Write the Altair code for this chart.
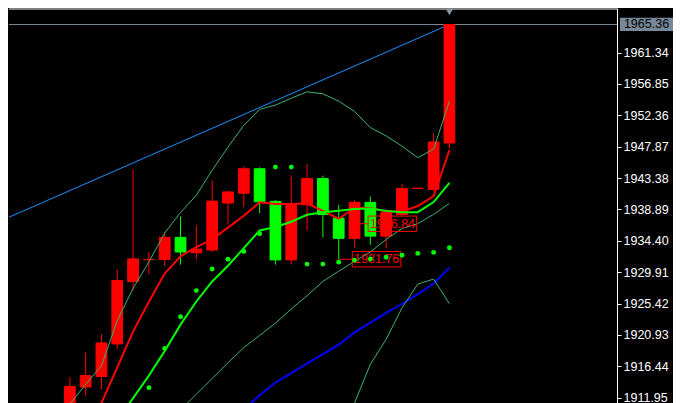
import altair as alt
import pandas as pd

# ---------------- data ----------------
candle_k = list(range(25))
open_ = [1909.00, 1913.47, 1914.97, 1919.64, 1928.58, 1931.70, 1931.71, 1934.89, 1932.69, 1933.07,
         1939.80, 1941.20, 1944.71, 1940.04, 1931.66, 1939.56, 1943.31, 1937.65, 1934.75, 1939.90,
         1935.07, 1938.16, 1941.90, 1941.77, 1948.40]
high = [1914.87, 1918.38, 1921.00, 1930.30, 1944.57, 1932.79, 1935.59, 1937.88, 1936.62, 1943.03,
        1941.53, 1945.04, 1944.90, 1940.22, 1943.73, 1945.41, 1943.73, 1939.52, 1940.22, 1940.74,
        1938.96, 1942.56, 1941.92, 1949.81, 1965.36]
low = [1908.50, 1912.20, 1913.14, 1918.94, 1927.27, 1929.60, 1930.78, 1931.00, 1931.71, 1932.79,
       1936.71, 1939.20, 1938.36, 1931.00, 1931.00, 1935.83, 1934.85, 1931.76, 1933.44, 1933.81,
       1933.35, 1937.84, 1941.90, 1941.49, 1947.62]
close = [1913.56, 1915.11, 1919.78, 1928.72, 1931.80, 1931.73, 1934.89, 1932.79, 1933.21, 1940.08,
         1941.39, 1944.71, 1939.98, 1931.66, 1939.66, 1943.31, 1938.16, 1934.75, 1939.90, 1935.07,
         1938.47, 1941.90, 1941.92, 1948.54, 1965.36]

ma_red_k = list(range(1, 25))
ma_red = [1905.99, 1911.18, 1916.26, 1921.42, 1925.67, 1929.70, 1932.18, 1933.48, 1934.61, 1936.29,
          1937.97, 1939.90, 1939.66, 1939.66, 1939.73, 1938.68, 1937.56, 1939.10, 1939.10, 1938.61,
          1938.54, 1939.38, 1940.78, 1947.38]

ma_lime_k = list(range(3, 25))
ma_lime = [1908.65, 1911.88, 1915.10, 1918.61, 1922.40, 1925.71, 1928.58, 1930.82, 1933.35, 1935.87,
           1936.36, 1937.13, 1938.12, 1938.47, 1938.71, 1938.96, 1939.03, 1938.68, 1938.50, 1938.50,
           1939.94, 1942.70]

band_up_k = list(range(25))
band_up = [1911.04, 1913.84, 1916.51, 1922.96, 1927.59, 1931.38, 1935.52, 1938.44, 1940.92, 1944.50,
           1947.80, 1950.92, 1953.20, 1953.83, 1954.81, 1955.72, 1955.44, 1954.39, 1952.92, 1950.60,
           1949.41, 1947.94, 1946.29, 1947.52, 1954.39]

band_lo_k = list(range(7, 25))
band_lo = [1910.19, 1912.44, 1914.68, 1916.93, 1919.10, 1920.86, 1922.60, 1924.64, 1926.54, 1928.58,
           1930.05, 1931.45, 1932.79, 1934.61, 1936.15, 1936.85, 1938.18, 1939.76]

env_k = list(range(17, 25))
env = [1905.99, 1911.18, 1916.72, 1920.30, 1924.79, 1928.19, 1928.92, 1925.39]

ma_blue_k = list(range(11, 25))
ma_blue = [1910.19, 1912.30, 1914.12, 1915.45, 1916.86, 1918.19, 1919.52, 1921.28, 1922.68, 1924.08,
           1925.35, 1926.75, 1928.29, 1930.54]

sar_k = list(range(5, 25))
sar = [1913.38, 1918.99, 1923.52, 1927.27, 1930.36, 1931.76, 1932.88, 1935.41, 1944.95, 1944.95,
       1931.06, 1931.06, 1931.34, 1931.62, 1931.80, 1932.04, 1932.32, 1932.60, 1932.74, 1933.41]

trend_k = [-4, 24]
trend = [1937.62, 1965.36]

tick_vals = [1961.34, 1956.85, 1952.36, 1947.87, 1943.38, 1938.89, 1934.40, 1929.91,
             1925.42, 1920.93, 1916.44, 1911.95]
last_price = 1965.36

label_k = [18, 17]
label_vals = [1936.84, 1931.76]

# ---------------- chart ----------------
W, H = 608, 395
XDOM = [-3.84375, 34.59375]
YDOM = [1911.18, 1967.72]
FONT = "Liberation Sans"

xs = alt.Scale(domain=XDOM, nice=False, zero=False)
ys = alt.Scale(domain=YDOM, nice=False, zero=False)
yaxis = alt.Axis(orient="right", values=tick_vals, format=".2f", labelColor="white",
                 labelFont=FONT, labelFontSize=12.5, tickColor="white", tickSize=4,
                 tickWidth=1, domainColor="white", domainWidth=1, grid=False, title=None,
                 labelPadding=2, labelOverlap=False)


def X(f):
    return alt.X(f, type="quantitative", scale=xs, axis=None)


def Y(f):
    return alt.Y(f, type="quantitative", scale=ys, axis=yaxis)


candles = pd.DataFrame({"k": candle_k, "open": open_, "high": high, "low": low, "close": close})
candles["dir"] = ["up" if c >= o else "down" for o, c in zip(open_, close)]
candles["xl"] = candles["k"] - 0.34
candles["xr"] = candles["k"] + 0.34
cscale = alt.Scale(domain=["up", "down"], range=["#ff0000", "#00ff00"])


def line_df(ks, vals):
    return pd.DataFrame({"k": ks, "price": vals})


def line_layer(df, color, width):
    return alt.Chart(df).mark_line(color=color, strokeWidth=width, clip=True,
                                   interpolate="linear").encode(x=X("k"), y=Y("price"))


trend_l = line_layer(line_df(trend_k, trend), "#1e90ff", 1)
price_line = alt.Chart(pd.DataFrame({"price": [last_price]})).mark_rule(
    color="#778899", strokeWidth=1).encode(y=Y("price"))

up_l = line_layer(line_df(band_up_k, band_up), "#3cb371", 1)
lo_l = line_layer(line_df(band_lo_k, band_lo), "#3cb371", 1)
env_l = line_layer(line_df(env_k, env), "#3cb371", 1)
blue_l = line_layer(line_df(ma_blue_k, ma_blue), "#0000ff", 2)

wicks = alt.Chart(candles).mark_rule(strokeWidth=1, clip=True).encode(
    x=X("k"), y=Y("low"), y2="high",
    color=alt.Color("dir:N", scale=cscale, legend=None))
bodies = alt.Chart(candles).mark_rect(strokeWidth=1, clip=True).encode(
    x=X("xl"), x2="xr", y=Y("open"), y2="close",
    color=alt.Color("dir:N", scale=cscale, legend=None),
    stroke=alt.Stroke("dir:N", scale=cscale, legend=None))

red_l = line_layer(line_df(ma_red_k, ma_red), "#ff0000", 2)
lime_l = line_layer(line_df(ma_lime_k, ma_lime), "#00ff00", 2)

sar_pts = alt.Chart(line_df(sar_k, sar)).mark_circle(
    size=24, color="#00ff00", opacity=1, clip=True).encode(x=X("k"), y=Y("price"))

labels = pd.DataFrame({"k": label_k, "price": label_vals})
labels["x0"] = labels["k"] + 0.86
labels["x1"] = labels["k"] + 3.93
labels["xc"] = labels["k"] + 2.4
labels["y0"] = labels["price"] - 1.1
labels["y1"] = labels["price"] + 1.1
labels["txt"] = [f"{v:.2f}" for v in label_vals]

conn = alt.Chart(labels).mark_rule(color="#ff0000", strokeWidth=1).encode(
    x=X("k"), x2="x0", y=Y("price"))
boxes = alt.Chart(labels).mark_rect(fillOpacity=0, stroke="#ff0000", strokeWidth=1).encode(
    x=X("x0"), x2="x1", y=Y("y0"), y2="y1")
texts = alt.Chart(labels).mark_text(color="#ff0000", font=FONT, fontSize=12.5,
                                    align="center", baseline="middle").encode(
    x=X("xc"), y=Y("price"), text="txt:N")

top_line = alt.Chart(pd.DataFrame({"a": [0]})).mark_rule(color="white", strokeWidth=1).encode(
    x=alt.value(0), x2=alt.value(W), y=alt.value(1))

last_df = pd.DataFrame({"k": [candle_k[-1]], "price": [last_price], "txt": [f"{last_price:.2f}"]})
last_df["y0"] = last_df["price"] - 0.95
last_df["y1"] = last_df["price"] + 0.95
last_box = alt.Chart(last_df).mark_rect(color="#778899", clip=False).encode(
    x=alt.value(611), x2=alt.value(664), y=Y("y0"), y2="y1")
last_txt = alt.Chart(last_df).mark_text(color="#000000", font=FONT, fontSize=12.5,
                                        align="center", baseline="middle").encode(
    x=alt.value(637.5), y=Y("price"), text="txt:N")
marker = alt.Chart(last_df).mark_point(shape="triangle-down", filled=True, size=55,
                                       color="#8a96a3", opacity=1).encode(
    x=X("k"), y=alt.value(4))

chart = alt.layer(
    trend_l, price_line, blue_l, wicks, bodies, up_l, lo_l, env_l, red_l, lime_l,
    conn, boxes, texts, sar_pts, top_line, last_box, last_txt, marker
).properties(width=W, height=H, padding=0, background="#000000").configure_view(
    stroke=None, fill="#000000")

chart.save("out.html", embed_options={"renderer": "svg", "actions": False})
